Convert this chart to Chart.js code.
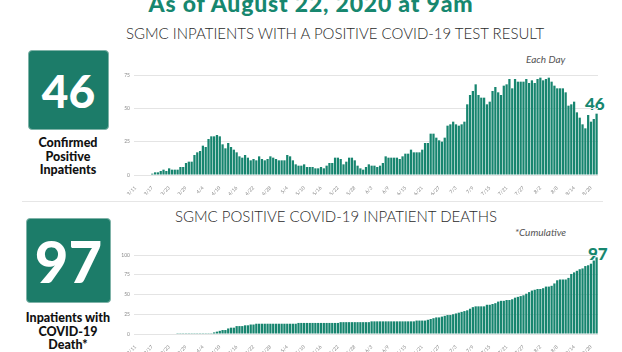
<!DOCTYPE html>
<html>
<head>
<meta charset="utf-8">
<script src="https://cdn.jsdelivr.net/npm/chart.js@4/dist/chart.umd.min.js"></script>
<style>
    body { margin: 0; width: 622px; height: 352px; background: #fff; position: relative; overflow: hidden; font-family: Lato, 'Open Sans', sans-serif; }
    .abs { position: absolute; white-space: nowrap; }
    .header { left: 0; width: 622px; top: -8px; text-align: center; font-size: 23px; font-weight: 900; color: #17876f; line-height: 23px; letter-spacing: 0.8px; }
    .title { font-size: 15px; font-weight: 300; color: #2a2a2a; line-height: 15px; transform: translateX(-50%); }
    .box { background: #1c7c69; border: 1px solid #7fb3a8; border-radius: 4px; box-sizing: border-box; color: #fff; font-weight: 900; display: flex; align-items: center; justify-content: center; }
    .caption { width: 120px; text-align: center; font-weight: 900; font-size: 12.5px; line-height: 13.5px; color: #111; transform: translateX(-50%); }
    .note { font-style: italic; font-size: 10px; color: #555; line-height: 10px; }
    .last { font-size: 17px; font-weight: 900; color: #17876f; line-height: 17px; }
    .wrap { position: absolute; }
</style>
</head>
<body>
<div class="abs header">As of August 22, 2020 at 9am</div>
<div class="abs title" style="left:335px; top:26px;">SGMC INPATIENTS WITH A POSITIVE COVID-19 TEST RESULT</div>
<div class="abs box" style="left:28px; top:50px; width:81px; height:80px; font-size:46px;">46</div>
<div class="abs caption" style="left:68px; top:136px;">Confirmed<br>Positive<br>Inpatients</div>
<div class="abs note" style="left:526px; top:54px;">Each Day</div>
<div class="abs last" style="left:585px; top:95px;">46</div>

<div class="abs" style="left:22px; top:201px; width:581px; height:1px; background:#e6e6e6;"></div>

<div class="abs title" style="left:336px; top:209px;">SGMC POSITIVE COVID-19 INPATIENT DEATHS</div>
<div class="abs box" style="left:26px; top:218px; width:85px; height:85px; font-size:58px;">97</div>
<div class="abs caption" style="left:68px; top:311px;">Inpatients with<br>COVID-19<br>Death*</div>
<div class="abs note" style="left:515px; top:227px;">*Cumulative</div>
<div class="abs last" style="left:588px; top:245px;">97</div>

<div class="wrap" style="left:110px; top:60px;"><canvas id="chart-inpatients" width="500" height="135"></canvas></div>
<div class="wrap" style="left:110px; top:240px;"><canvas id="chart-deaths" width="500" height="114"></canvas></div>

<script>
// daily inpatients, one array per month (3/11 .. 8/22)
const inpMar = [0, 0, 0, 0, 0, 0, 1, 2, 2, 3, 4, 3, 5, 4, 4, 4, 6, 6, 9, 10, 10];
const inpApr = [15, 17, 18, 22, 21, 27, 29, 29, 30, 29, 23, 20, 24, 21, 19, 17, 14, 13, 15, 13, 11, 12, 11, 14, 12, 11, 12, 14, 13, 12];
const inpMay = [11, 11, 11, 15, 14, 11, 8, 7, 7, 8, 6, 6, 6, 5, 5, 6, 5, 7, 9, 9, 13, 13, 12, 8, 10, 13, 13, 11, 7, 5, 4];
const inpJun = [6, 8, 7, 7, 6, 7, 9, 14, 13, 13, 13, 13, 12, 14, 16, 16, 19, 17, 17, 17, 19, 24, 24, 31, 31, 28, 26, 25, 28, 37];
const inpJul = [38, 40, 38, 37, 38, 40, 53, 60, 63, 68, 60, 58, 58, 53, 55, 63, 66, 62, 60, 67, 68, 72, 65, 72, 70, 70, 70, 72, 69, 71, 69];
const inpAug = [72, 73, 71, 72, 73, 70, 67, 65, 65, 65, 62, 52, 53, 55, 47, 43, 38, 35, 45, 40, 42, 46];

// cumulative deaths, one array per month
const deathMar = [0, 0, 0, 0, 0, 0, 0, 0, 0, 0, 0, 0, 0, 0, 0, 1, 1, 1, 1, 1, 1];
const deathApr = [1, 1, 1, 1, 1, 1, 1, 2, 3, 4, 5, 5, 7, 8, 8, 10, 10, 10, 11, 11, 12, 12, 13, 13, 13, 13, 13, 13, 13, 13];
const deathMay = [13, 13, 13, 13, 13, 13, 13, 14, 14, 14, 14, 14, 14, 14, 14, 14, 14, 14, 14, 14, 14, 14, 15, 15, 15, 15, 15, 15, 15, 15, 15];
const deathJun = [15, 15, 16, 16, 16, 16, 16, 16, 16, 16, 16, 16, 16, 16, 16, 16, 16, 16, 17, 17, 17, 17, 18, 19, 20, 21, 21, 22, 23, 24];
const deathJul = [24, 25, 26, 27, 28, 29, 30, 32, 34, 35, 35, 35, 35, 37, 37, 38, 39, 41, 42, 42, 43, 43, 44, 46, 47, 48, 49, 51, 53, 55, 56];
const deathAug = [57, 57, 58, 60, 60, 61, 64, 68, 69, 69, 69, 71, 76, 78, 80, 82, 83, 86, 87, 89, 93, 97];

const tickDates = ['3/11', '3/17', '3/23', '3/29', '4/4', '4/10', '4/16', '4/22', '4/28', '5/4', '5/10', '5/16', '5/22', '5/28',
    '6/3', '6/9', '6/15', '6/21', '6/27', '7/3', '7/9', '7/15', '7/21', '7/27', '8/2', '8/8', '8/14', '8/20'];
const inpTicks = [0, 25, 50, 75];
const deathTicks = [0, 25, 50, 75, 100];

const inpatients = [].concat(inpMar, inpApr, inpMay, inpJun, inpJul, inpAug);
const deaths = [].concat(deathMar, deathApr, deathMay, deathJun, deathJul, deathAug);

// category labels 3/11 .. 8/22
const days = [];
for (let d = new Date(Date.UTC(2020, 2, 11)); d <= new Date(Date.UTC(2020, 7, 22)); d.setUTCDate(d.getUTCDate() + 1)) {
    days.push((d.getUTCMonth() + 1) + '/' + d.getUTCDate());
}

const BAR = '#17856f';
const GRID = '#e4e4e4';
const TICK = '#8a8a8a';

function barChart(canvas, values, yTicks) {
    new Chart(canvas, {
        type: 'bar',
        data: {
            labels: days,
            datasets: [{
                data: values,
                backgroundColor: BAR,
                borderWidth: 0,
                barPercentage: 0.8,
                categoryPercentage: 1
            }]
        },
        options: {
            responsive: false,
            animation: false,
            devicePixelRatio: 1,
            layout: { padding: { top: 15, right: 12, left: 0, bottom: 0 } },
            plugins: { legend: { display: false }, tooltip: { enabled: false } },
            scales: {
                x: {
                    grid: { display: false },
                    border: { display: false },
                    ticks: {
                        autoSkip: false,
                        minRotation: 45,
                        maxRotation: 45,
                        padding: 2,
                        color: TICK,
                        font: { family: 'Lato, sans-serif', size: 5 },
                        callback: (v, i) => tickDates.includes(days[i]) ? days[i] : ''
                    },
                    afterFit: s => { s.height = 20; }
                },
                y: {
                    min: yTicks[0],
                    max: yTicks[yTicks.length - 1],
                    border: { display: false },
                    grid: { color: GRID, drawTicks: false },
                    afterBuildTicks: s => { s.ticks = yTicks.map(v => ({ value: v })); },
                    ticks: {
                        padding: 4,
                        color: TICK,
                        font: { family: 'Lato, sans-serif', size: 5 }
                    },
                    afterFit: s => { s.width = 24; }
                }
            }
        }
    });
}

barChart(document.getElementById('chart-inpatients'), inpatients, inpTicks);
barChart(document.getElementById('chart-deaths'), deaths, deathTicks);
</script>
</body>
</html>
